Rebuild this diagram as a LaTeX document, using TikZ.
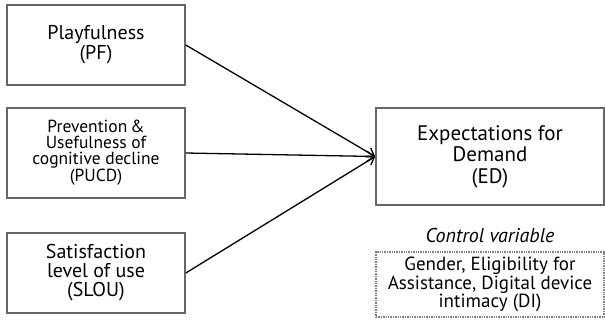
\documentclass[tikz,border=0pt]{standalone}
\usepackage{fontspec}
\setmainfont{PT Sans}
\usetikzlibrary{arrows.meta}

\begin{document}
\begin{tikzpicture}[x=1pt,y=-1pt,
  factor/.style={draw=gray!80!black,line width=1.6pt,fill=white,align=center,
    minimum width=178pt,inner sep=2pt},
  outcome/.style={factor,minimum width=228pt,minimum height=97pt,font=\fontsize{21}{21.5}\selectfont},
  control/.style={draw=gray,densely dotted,line width=1.4pt,align=center,
    minimum width=228pt,minimum height=65pt,inner sep=2pt,font=\fontsize{19}{17.5}\selectfont},
  path/.style={black,line width=1.3pt,-{Straight Barb[length=7pt,width=10pt]}}]
  \useasboundingbox (0,0) rectangle (605,322);
  % explanatory factors
  \node[factor,minimum height=80pt,font=\fontsize{20}{20}\selectfont] (PF) at (96,45) {Playfulness\\(PF)};
  \node[factor,minimum height=90pt,font=\fontsize{17.5}{16}\selectfont] (PUCD) at (96,153)
    {Prevention\,\&\\Usefulness of\\cognitive decline\\(PUCD)};
  \node[factor,minimum height=80pt,font=\fontsize{20}{19}\selectfont] (SLOU) at (96,273)
    {Satisfaction\\level of use\\(SLOU)};
  % dependent variable
  \node[outcome] (ED) at (490,156.5) {Expectations for\\Demand\\(ED)};
  \node[font=\itshape\fontsize{20}{20}\selectfont] (CVlabel) at (490,235) {Control variable};
  \node[control] (CV) at (490,284.5) {Gender, Eligibility for\\Assistance, Digital device\\intimacy (DI)};
  \draw[path] (PF.east) -- (ED.west);
  \draw[path] (PUCD.east) -- (ED.west);
  \draw[path] (SLOU.east) -- (ED.west);
\end{tikzpicture}
\end{document}
